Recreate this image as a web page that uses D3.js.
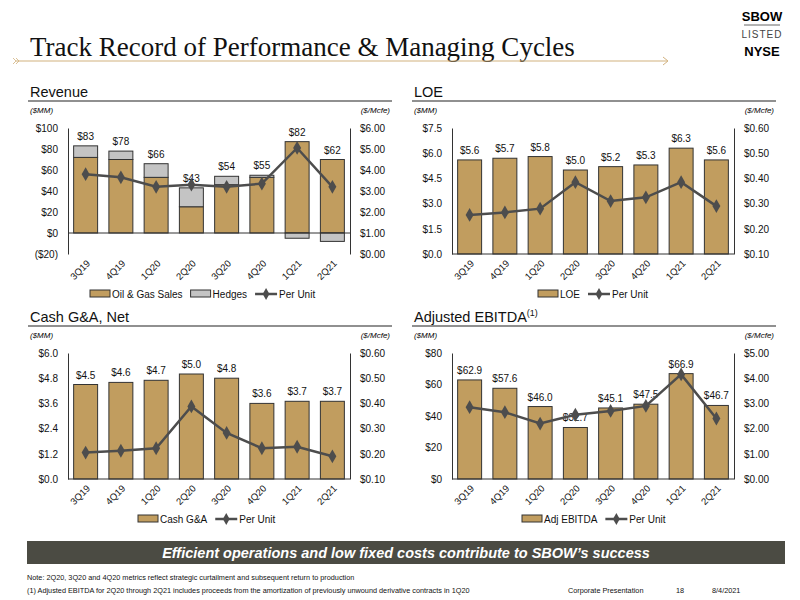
<!DOCTYPE html>
<html><head><meta charset="utf-8">
<script src="https://cdn.jsdelivr.net/npm/d3@7"></script>
<style>body{margin:0;background:#fff}svg{font-family:"Liberation Sans",Arial,sans-serif}</style>
</head><body><svg id="c" width="800" height="600"></svg>
<script>
const quarters = ["3Q19","4Q19","1Q20","2Q20","3Q20","4Q20","1Q21","2Q21"];
const revOilGas = [72,70,53,25,46,53,87,70];
const revHedges = [11,8,13,18,8,2,-5,-8];
const revLabels = ["$83","$78","$66","$43","$54","$55","$82","$62"];
const revPerUnit = [3.80,3.65,3.20,3.30,3.20,3.35,5.05,3.20];
const revTicksL = [-20,0,20,40,60,80,100];
const revTicksR = [0,1,2,3,4,5,6];
const loe = [5.6,5.7,5.8,5.0,5.2,5.3,6.3,5.6];
const loePerUnit = [0.255,0.265,0.28,0.385,0.31,0.325,0.385,0.29];
const loeTicksL = [0,1.5,3,4.5,6,7.5];
const loeTicksR = [0.1,0.2,0.3,0.4,0.5,0.6];
const gna = [4.5,4.6,4.7,5.0,4.8,3.6,3.7,3.7];
const gnaLabels = ["$4.5","$4.6","$4.7","$5.0","$4.8","$3.6","$3.7","$3.7"];
const gnaPerUnit = [0.205,0.212,0.222,0.388,0.283,0.222,0.228,0.19];
const gnaTicksL = [0,1.2,2.4,3.6,4.8,6.0];
const gnaTicksR = [0.1,0.2,0.3,0.4,0.5,0.6];
const ebitda = [62.9,57.6,46.0,32.7,45.1,47.5,66.9,46.7];
const ebitdaPerUnit = [2.85,2.65,2.2,2.55,2.7,2.9,4.15,2.4];
const ebitdaTicksL = [0,20,40,60,80];
const ebitdaTicksR = [0,1,2,3,4,5];

const svg = d3.select("#c");
const GOLD="#c19d5f", GREY="#c4c4c4", LINE="#4d4d4d";

// header
svg.append("text").attr("x",30).attr("y",56).attr("font-family","Liberation Serif,serif").attr("font-size",27).attr("fill","#111").text("Track Record of Performance & Managing Cycles");
svg.append("line").attr("x1",16).attr("x2",667).attr("y1",61).attr("y2",61).attr("stroke","#d2b27f").attr("stroke-width",1.2);
svg.append("path").attr("d","M663,57 L668,61 L663,65").attr("fill","none").attr("stroke","#d2b27f");
svg.append("path").attr("d","M13,58 L16,61 L13,64 M16,58 L19,61 L16,64").attr("fill","none").attr("stroke","#d2b27f").attr("stroke-width",0.8);
svg.append("text").attr("x",762).attr("y",21).attr("text-anchor","middle").attr("font-weight","bold").attr("font-size",13).text("SBOW");
svg.append("line").attr("x1",744).attr("x2",780).attr("y1",25).attr("y2",25).attr("stroke","#666");
svg.append("text").attr("x",762).attr("y",38).attr("text-anchor","middle").attr("font-size",10).attr("letter-spacing",1).attr("fill","#444").text("LISTED");
svg.append("text").attr("x",762).attr("y",56).attr("text-anchor","middle").attr("font-weight","bold").attr("font-size",13).text("NYSE");

function fmt(v,d){return "$"+v.toFixed(d);}
function fmtL(v,d){return v<0?"($"+Math.abs(v).toFixed(d)+")":"$"+v.toFixed(d);}

function panel(o){
  const g=svg.append("g");
  const {tx,ty}=o;
  const L=tx+48, R=tx+330, T=ty+48, B=ty+174;
  const t=g.append("text").attr("x",tx+10).attr("y",ty+17).attr("font-size",14.5).attr("fill","#111").text(o.title);
  if(o.sup) t.append("tspan").attr("font-size",9).attr("dy",-6).text(o.sup);
  g.append("line").attr("x1",tx+8).attr("x2",tx+372).attr("y1",ty+21).attr("y2",ty+21).attr("stroke","#222").attr("stroke-width",1.2);
  g.append("text").attr("x",tx+10).attr("y",ty+33).attr("font-size",8).attr("font-style","italic").text("($MM)");
  g.append("text").attr("x",tx+370).attr("y",ty+33).attr("text-anchor","end").attr("font-size",8).attr("font-style","italic").text("($/Mcfe)");
  const x=d3.scaleBand().domain(quarters).range([L,R]).paddingInner(0.32).paddingOuter(0.16);
  const y=d3.scaleLinear().domain(d3.extent(o.ticksL)).range([B,T]);
  const y2=d3.scaleLinear().domain(d3.extent(o.ticksR)).range([B,T]);
  const ax=g.append("g").attr("transform",`translate(${L},0)`).call(d3.axisLeft(y).tickValues(o.ticksL).tickSize(0).tickPadding(10).tickFormat(v=>fmtL(v,o.dl)));
  const ar=g.append("g").attr("transform",`translate(${R},0)`).call(d3.axisRight(y2).tickValues(o.ticksR).tickSize(0).tickPadding(10).tickFormat(v=>fmt(v,2)));
  [ax,ar].forEach(a=>{a.select(".domain").attr("stroke","#333");a.selectAll("text").attr("font-size",10).attr("fill","#111").attr("font-family","Liberation Sans,Arial");});
  const bot=y(0);
  o.bars.forEach((s,si)=>{
    g.selectAll(null).data(s.vals).join("rect")
      .attr("x",(d,i)=>x(quarters[i])).attr("width",x.bandwidth())
      .attr("y",(d,i)=>{const base=si===0?0:(d>=0?o.bars[0].vals[i]:0);return d>=0?y(base+d):y(base);})
      .attr("height",d=>Math.abs(y(0)-y(d)))
      .attr("fill",s.color).attr("stroke","#333").attr("stroke-width",1);
  });
  g.append("line").attr("x1",L).attr("x2",R).attr("y1",bot).attr("y2",bot).attr("stroke","#333");
  const tot=o.bars.length>1?o.bars[0].vals.map((v,i)=>v+Math.max(0,o.bars[1].vals[i])):o.bars[0].vals;
  g.selectAll(null).data(o.labels).join("text")
    .attr("x",(d,i)=>x(quarters[i])+x.bandwidth()/2).attr("y",(d,i)=>y(tot[i])-6)
    .attr("text-anchor","middle").attr("font-size",10).attr("fill","#111").text(d=>d);
  g.append("path").datum(o.per).attr("fill","none").attr("stroke",LINE).attr("stroke-width",2.5)
    .attr("d",d3.line().x((d,i)=>x(quarters[i])+x.bandwidth()/2).y(d=>y2(d)));
  g.selectAll(null).data(o.per).join("path").attr("d",d3.symbol(d3.symbolDiamond,55))
    .attr("transform",(d,i)=>`translate(${x(quarters[i])+x.bandwidth()/2},${y2(d)})`).attr("fill",LINE);
  g.selectAll(null).data(quarters).join("text")
    .attr("transform",d=>`translate(${x(d)+x.bandwidth()/2+5},${B+10}) rotate(-45)`)
    .attr("text-anchor","end").attr("font-size",9.5).attr("fill","#111").text(d=>d);
  let lx=o.legX, ly=ty+214;
  o.legend.forEach(it=>{
    if(it.type==="rect"){
      g.append("rect").attr("x",lx).attr("y",ly-4).attr("width",20).attr("height",7).attr("fill",it.color).attr("stroke","#333");
      lx+=22;
    }else{
      g.append("line").attr("x1",lx).attr("x2",lx+22).attr("y1",ly).attr("y2",ly).attr("stroke",LINE).attr("stroke-width",2.5);
      g.append("path").attr("d",d3.symbol(d3.symbolDiamond,40)).attr("transform",`translate(${lx+11},${ly})`).attr("fill",LINE);
      lx+=24;
    }
    const tt=g.append("text").attr("x",lx).attr("y",ly+4).attr("font-size",10).attr("fill","#111").text(it.name);
    lx+=tt.node().getComputedTextLength()+8;
  });
}

panel({tx:20,ty:80,title:"Revenue",ticksL:revTicksL,ticksR:revTicksR,dl:0,
  bars:[{vals:revOilGas,color:GOLD},{vals:revHedges,color:GREY}],labels:revLabels,per:revPerUnit,legX:90,
  legend:[{type:"rect",color:GOLD,name:"Oil & Gas Sales"},{type:"rect",color:GREY,name:"Hedges"},{type:"line",name:"Per Unit"}]});
panel({tx:404,ty:80,title:"LOE",ticksL:loeTicksL,ticksR:loeTicksR,dl:1,
  bars:[{vals:loe,color:GOLD}],labels:loe.map(v=>fmt(v,1)),per:loePerUnit,legX:538,
  legend:[{type:"rect",color:GOLD,name:"LOE"},{type:"line",name:"Per Unit"}]});
panel({tx:20,ty:305,title:"Cash G&A, Net",ticksL:gnaTicksL,ticksR:gnaTicksR,dl:1,
  bars:[{vals:gna,color:GOLD}],labels:gnaLabels,per:gnaPerUnit,legX:138,
  legend:[{type:"rect",color:GOLD,name:"Cash G&A"},{type:"line",name:"Per Unit"}]});
panel({tx:404,ty:305,title:"Adjusted EBITDA",sup:"(1)",ticksL:ebitdaTicksL,ticksR:ebitdaTicksR,dl:0,
  bars:[{vals:ebitda,color:GOLD}],labels:ebitda.map(v=>fmt(v,1)),per:ebitdaPerUnit,legX:522,
  legend:[{type:"rect",color:GOLD,name:"Adj EBITDA"},{type:"line",name:"Per Unit"}]});

svg.append("rect").attr("x",27).attr("y",541).attr("width",758).attr("height",23).attr("fill","#4b4b43");
svg.append("text").attr("x",406).attr("y",558).attr("text-anchor","middle").attr("fill","#fff").attr("font-weight","bold").attr("font-style","italic").attr("font-size",14.5).text("Efficient operations and low fixed costs contribute to SBOW’s success");
svg.append("text").attr("x",27).attr("y",580).attr("font-size",7.3).attr("fill","#111").text("Note: 2Q20, 3Q20 and 4Q20 metrics reflect strategic curtailment and subsequent return to production");
svg.append("text").attr("x",27).attr("y",593).attr("font-size",7.3).attr("fill","#111").text("(1)    Adjusted EBITDA for 2Q20 through 2Q21 includes proceeds from the amortization of previously unwound derivative contracts in 1Q20");
svg.append("text").attr("x",568).attr("y",593).attr("font-size",7.3).attr("fill","#111").text("Corporate Presentation");
svg.append("text").attr("x",676).attr("y",593).attr("font-size",7.3).attr("fill","#111").text("18");
svg.append("text").attr("x",712).attr("y",593).attr("font-size",7.3).attr("fill","#111").text("8/4/2021");
</script></body></html>
